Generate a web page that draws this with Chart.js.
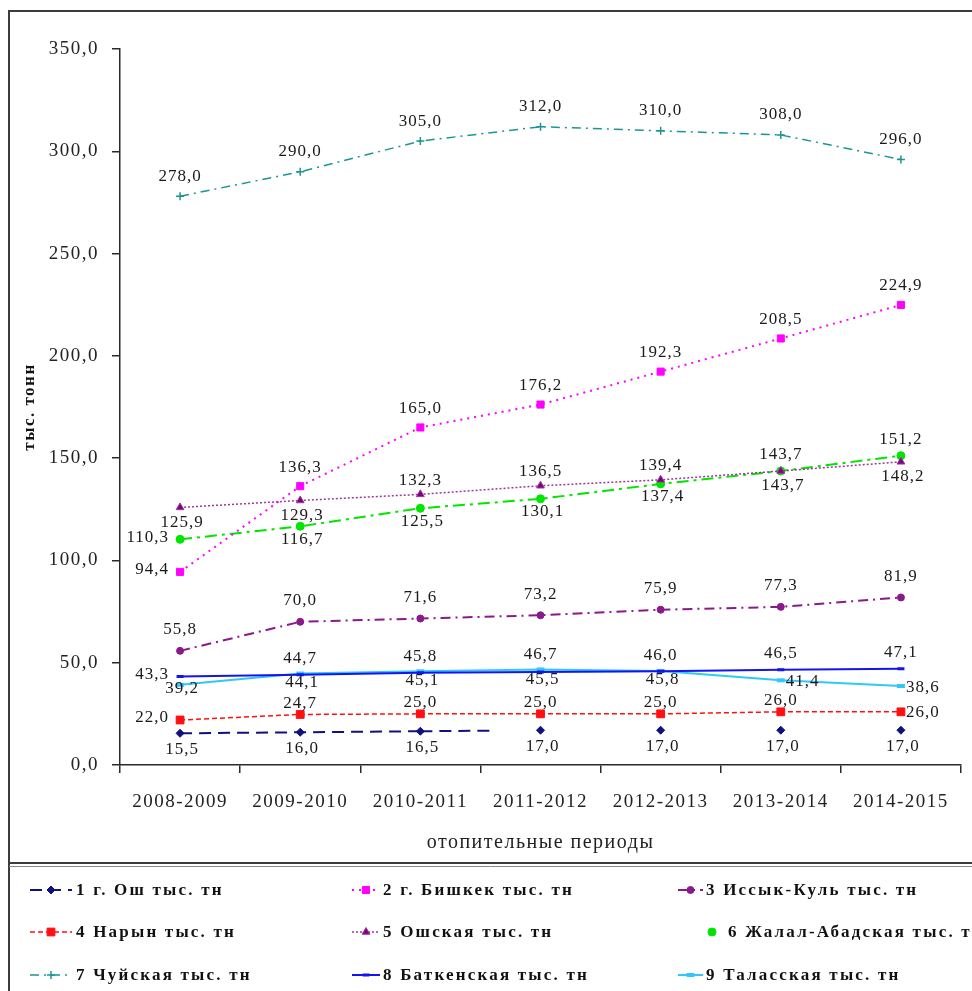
<!DOCTYPE html>
<html>
<head>
<meta charset="utf-8">
<script src="https://cdn.jsdelivr.net/npm/chart.js@4/dist/chart.umd.min.js"></script>
<style>
  html, body { margin: 0; padding: 0; background: #fff; }
  #wrap { width: 972px; height: 991px; }
</style>
</head>
<body>
<div id="wrap"><canvas id="c" width="972" height="991"></canvas></div>
<script>
// Heating periods (x categories)
const periods = ['2008-2009', '2009-2010', '2010-2011', '2011-2012', '2012-2013', '2013-2014', '2014-2015'];

// Coal consumption by region, thousand tonnes
const oshCity    = [15.5, 16.0, 16.5, 17.0, 17.0, 17.0, 17.0];
const bishkek    = [94.4, 136.3, 165.0, 176.2, 192.3, 208.5, 224.9];
const issykKul   = [55.8, 70.0, 71.6, 73.2, 75.9, 77.3, 81.9];
const naryn      = [22.0, 24.7, 25.0, 25.0, 25.0, 26.0, 26.0];
const oshRegion  = [125.9, 129.3, 132.3, 136.5, 139.4, 143.7, 148.2];
const jalalAbad  = [110.3, 116.7, 125.5, 130.1, 137.4, 143.7, 151.2];
const chui       = [278.0, 290.0, 305.0, 312.0, 310.0, 308.0, 296.0];
const batken     = [43.3, 44.1, 45.1, 45.5, 45.8, 46.5, 47.1];
const talas      = [39.2, 44.7, 45.8, 46.7, 46.0, 41.4, 38.6];

const seriesNames = [
  '1 г. Ош тыс. тн', '2 г. Бишкек тыс. тн', '3 Иссык-Куль тыс. тн',
  '4 Нарын тыс. тн', '5 Ошская тыс. тн', '6 Жалал-Абадская тыс. тн',
  '7 Чуйская тыс. тн', '8 Баткенская тыс. тн', '9 Таласская тыс. тн'
];

const yMin = 0, yMax = 350, yStep = 50;

const SERIF = '"Liberation Serif", "Times New Roman", serif';
const fmt = v => v.toFixed(1).replace('.', ',');

function series(name, data, style) {
  return Object.assign({
    label: name,
    data: data,
    fill: false,
    tension: 0,
    pointBorderWidth: 1,
    pointHoverRadius: 0,
    labelGap: { t: 16, b: 15 }
  }, style);
}

const datasets = [
  series(seriesNames[0], oshCity, {
    borderColor: '#10107e', backgroundColor: '#10107e', borderWidth: 2, borderDash: [12, 7],
    pointStyle: 'rectRot', pointRadius: 4,
    // the dashed line fades out after 2010-2011; later periods show markers only
    segment: {
      borderColor: c => c.p0DataIndex >= 3 ? 'rgba(0,0,0,0)' : undefined,
      borderDash: c => c.p0DataIndex === 2 ? [12, 7, 12, 7, 12, 7, 12, 400] : undefined
    },
    labelPlacement: ['b', 'b', 'b', 'b', 'b', 'b', 'b'],
    labelGap: { t: 16, b: 16 }
  }),
  series(seriesNames[1], bishkek, {
    borderColor: '#ff00ff', backgroundColor: '#ff00ff', borderWidth: 2, borderDash: [2, 5],
    pointStyle: 'rect', pointRadius: 5,
    labelPlacement: ['l', 't', 't', 't', 't', 't', 't'],
    labelGap: { t: 19, b: 15 }
  }),
  series(seriesNames[2], issykKul, {
    borderColor: '#8a1a8a', backgroundColor: '#8a1a8a', borderWidth: 2, borderDash: [10, 5, 2, 5],
    pointStyle: 'circle', pointRadius: 3.5,
    labelPlacement: ['t', 't', 't', 't', 't', 't', 't'],
    labelGap: { t: 21, b: 15 }
  }),
  series(seriesNames[3], naryn, {
    borderColor: '#ff1010', backgroundColor: '#ff1010', borderWidth: 1.5, borderDash: [5, 3],
    pointStyle: 'rect', pointRadius: 5.5,
    labelPlacement: ['l', 't', 't', 't', 't', 't', 'r'],
    labelGap: { t: 11, b: 15 }
  }),
  series(seriesNames[4], oshRegion, {
    borderColor: '#9a3a9a', backgroundColor: '#800080', borderWidth: 1.5, borderDash: [2, 2],
    pointStyle: 'triangle', pointRadius: 4.5,
    labelPlacement: ['b', 'b', 't', 't', 't', 'b', 'b'],
    labelGap: { t: 14, b: 15 }
  }),
  series(seriesNames[5], jalalAbad, {
    borderColor: '#00e600', backgroundColor: '#00e600', borderWidth: 2, borderDash: [12, 5, 3, 5],
    pointStyle: 'circle', pointRadius: 4,
    legendMarkerOnly: true,
    labelPlacement: ['l', 'b', 'b', 'b', 'b', 't', 't'],
    labelGap: { t: 16, b: 13 }
  }),
  series(seriesNames[6], chui, {
    borderColor: '#1c9494', backgroundColor: '#1c9494', borderWidth: 1.5, borderDash: [9, 5, 2, 5],
    pointStyle: 'cross', pointRadius: 4, pointBorderWidth: 1.5,
    labelPlacement: ['t', 't', 't', 't', 't', 't', 't'],
    labelGap: { t: 20, b: 15 }
  }),
  series(seriesNames[7], batken, {
    borderColor: '#1414f0', backgroundColor: '#1414f0', borderWidth: 2,
    pointStyle: 'line', pointRadius: 3.5, pointBorderWidth: 3,
    labelPlacement: ['l', 'b', 'b', 'b', 'b', 't', 't'],
    labelGap: { t: 16, b: 8 }
  }),
  series(seriesNames[8], talas, {
    borderColor: '#30c8fa', backgroundColor: '#30c8fa', borderWidth: 2,
    pointStyle: 'line', pointRadius: 4, pointBorderWidth: 4,
    labelPlacement: ['b', 't', 't', 't', 't', 'r', 'r'],
    labelGap: { t: 15, b: 4 }
  })
];

// White page, outer frame and the separator above the legend
const framePlugin = {
  id: 'frame',
  beforeDraw(chart) {
    const ctx = chart.ctx;
    ctx.save();
    ctx.fillStyle = '#fff';
    ctx.fillRect(0, 0, chart.width, chart.height);
    ctx.restore();
    ctx.letterSpacing = '1.5px';
  },
  afterDraw(chart) {
    const ctx = chart.ctx;
    ctx.save();
    ctx.strokeStyle = '#3c3c3c';
    ctx.lineWidth = 2;
    ctx.beginPath();
    ctx.moveTo(9, chart.height);
    ctx.lineTo(9, 11);
    ctx.lineTo(chart.width, 11);
    ctx.stroke();
    ctx.beginPath();
    ctx.moveTo(9, 863);
    ctx.lineTo(chart.width, 863);
    ctx.stroke();
    ctx.strokeStyle = '#8a8a8a';
    ctx.lineWidth = 1;
    ctx.beginPath();
    ctx.moveTo(9, 866.5);
    ctx.lineTo(chart.width, 866.5);
    ctx.stroke();
    ctx.restore();
  }
};

// Value labels next to each point
const valueLabels = {
  id: 'valueLabels',
  afterDatasetsDraw(chart) {
    const ctx = chart.ctx;
    ctx.save();
    ctx.font = '17px ' + SERIF;
    ctx.letterSpacing = '1px';
    ctx.fillStyle = '#1a1a1a';
    ctx.textBaseline = 'middle';
    chart.data.datasets.forEach((ds, di) => {
      const meta = chart.getDatasetMeta(di);
      meta.data.forEach((pt, i) => {
        const txt = fmt(ds.data[i]);
        const pos = ds.labelPlacement[i];
        let x = pt.x, y = pt.y;
        if (pos === 't') { ctx.textAlign = 'center'; y -= ds.labelGap.t; }
        else if (pos === 'b') { ctx.textAlign = 'center'; x += 2; y += ds.labelGap.b; }
        else if (pos === 'l') { ctx.textAlign = 'right'; x -= 11; y -= 2; }
        else { ctx.textAlign = 'left'; x += 5; y += 1; }
        ctx.fillText(txt, x, y);
      });
    });
    ctx.restore();
  }
};

// Three-column legend below the plot
const gridLegend = {
  id: 'gridLegend',
  afterDraw(chart) {
    const ctx = chart.ctx;
    const cols = [
      { sx: 30, ex: 72, tx: 76 },
      { sx: 352, ex: 380, tx: 383 },
      { sx: 678, ex: 703, tx: 706 }
    ];
    const rows = [890, 932, 975];
    chart.data.datasets.forEach((ds, i) => {
      const c = cols[i % 3];
      const y = rows[Math.floor(i / 3)];
      let mx = (c.sx + c.ex) / 2;
      let tx = c.tx;
      ctx.save();
      if (!ds.legendMarkerOnly) {
        ctx.strokeStyle = ds.borderColor;
        ctx.lineWidth = ds.borderWidth;
        ctx.setLineDash(ds.borderDash || []);
        ctx.beginPath();
        ctx.moveTo(c.sx, y);
        ctx.lineTo(c.ex, y);
        ctx.stroke();
      } else {
        mx = c.ex + 9;
        tx = c.tx + 22;
      }
      ctx.setLineDash([]);
      ctx.fillStyle = ds.backgroundColor;
      ctx.strokeStyle = ds.borderColor;
      ctx.lineWidth = ds.pointBorderWidth || 1;
      Chart.helpers.drawPoint(ctx, {
        pointStyle: ds.pointStyle, radius: ds.pointRadius, rotation: 0, borderWidth: ds.pointBorderWidth || 1
      }, mx, y);
      ctx.fillStyle = '#111';
      ctx.font = 'bold 17px ' + SERIF;
      ctx.letterSpacing = '2.2px';
      ctx.textAlign = 'left';
      ctx.textBaseline = 'middle';
      ctx.fillText(ds.label, tx, y + 1);
      ctx.restore();
    });
  }
};

new Chart(document.getElementById('c'), {
  type: 'line',
  data: { labels: periods, datasets: datasets },
  options: {
    responsive: false,
    animation: false,
    events: [],
    layout: { padding: { left: 0, top: 49, right: 11, bottom: 126 } },
    plugins: { legend: { display: false }, tooltip: { enabled: false } },
    scales: {
      x: {
        type: 'category',
        offset: true,
        grid: { offset: true, drawOnChartArea: false, drawTicks: true, tickLength: 8, color: '#2a2a2a', lineWidth: 1.5 },
        border: { color: '#2a2a2a', width: 1.5 },
        ticks: { font: { family: SERIF, size: 19 }, color: '#222', padding: 18, maxRotation: 0, autoSkip: false },
        title: { display: true, text: 'отопительные периоды', color: '#222', font: { family: SERIF, size: 20 }, padding: { top: 0, bottom: 10 } },
        afterFit(s) { s.height = 100; }
      },
      y: {
        min: yMin,
        max: yMax,
        grid: { drawOnChartArea: false, drawTicks: true, tickLength: 8, color: '#2a2a2a', lineWidth: 1.5 },
        border: { color: '#2a2a2a', width: 1.5 },
        ticks: { stepSize: yStep, font: { family: SERIF, size: 19 }, color: '#222', padding: 13, callback: v => fmt(v) },
        title: { display: true, text: 'тыс. тонн', color: '#111', font: { family: SERIF, size: 17, weight: 'bold' }, padding: { top: 19, bottom: 0 } },
        afterFit(s) { s.width = 120; }
      }
    }
  },
  plugins: [framePlugin, valueLabels, gridLegend]
});
</script>
</body>
</html>
